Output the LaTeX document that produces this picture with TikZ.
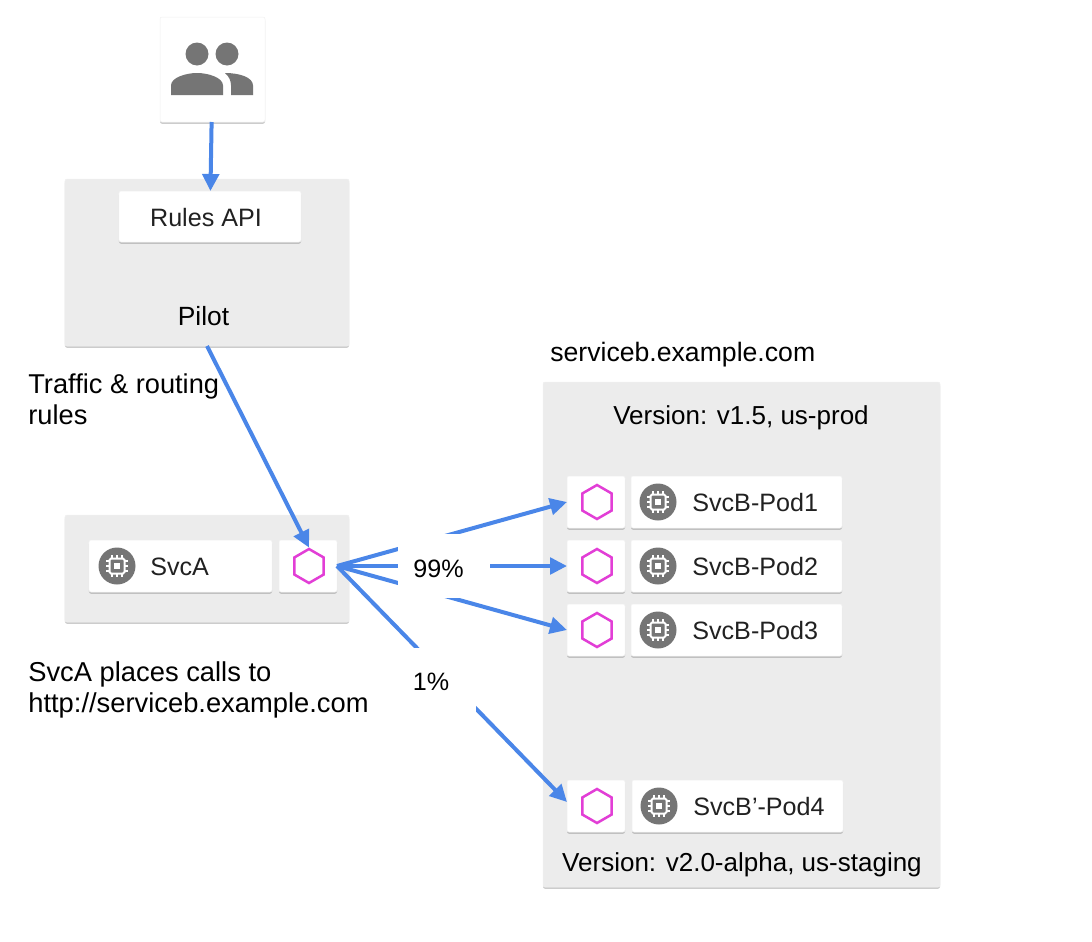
\documentclass[tikz,border=0pt]{standalone}
\usepackage{fontspec}
\setmainfont{Liberation Sans}
\usetikzlibrary{arrows.meta,shapes.geometric,shadows}
\definecolor{wire}{RGB}{74,134,232}
\definecolor{panel}{RGB}{236,236,236}
\definecolor{slate}{RGB}{117,117,117}
\definecolor{proxy}{RGB}{226,62,214}
\definecolor{ink}{RGB}{33,33,33}
\tikzset{
  >={Triangle[length=3.4mm,width=3.3mm]},
  card/.style={fill=#1,draw=black!6,line width=0.1mm,rounded corners=0.4mm,inner sep=0pt,outer sep=0pt,
    drop shadow={opacity=0.4,shadow xshift=0pt,shadow yshift=-0.35mm}},
  card/.default=white,
  panelbox/.style={card=panel},
  hexbox/.style={card,minimum width=11.6mm,minimum height=10.4mm},
  podbox/.style={card,minimum width=42.2mm,minimum height=10.4mm},
  envoy/.style={regular polygon,regular polygon sides=6,shape border rotate=30,
    draw=proxy,line width=0.5mm,minimum size=6.8mm,inner sep=0pt},
  flow/.style={->,draw=wire,line width=0.8mm},
  tag/.style={font=\fontsize{14.3}{18}\selectfont,text=ink,inner sep=0pt},
  note/.style={font=\fontsize{#1}{18.1}\selectfont,text=black,inner sep=0pt,align=left},
  note/.default=14.8,
  gap/.style={fill=white,inner sep=0pt,font=\fontsize{14.3}{18}\selectfont},
  % pictograms
  pics/chip/.style={code={
    \fill[slate] (0,0) circle (18.5);
    \draw[white,line width=0.4mm,rounded corners=0.3mm] (-7.5,-7.5) rectangle (7.5,7.5);
    \fill[white] (-3.2,-3.2) rectangle (3.2,3.2);
    \foreach \t in {-5,0,5} {
      \draw[white,line width=0.25mm] (\t,-11) -- (\t,-7.5) (\t,7.5) -- (\t,11);
      \draw[white,line width=0.25mm] (-11,\t) -- (-7.5,\t) (7.5,\t) -- (11,\t);
    }
  }},
  pics/people/.style={code={
    \fill[slate] (-15,-15.5) circle (11.5);
    \fill[slate] (15,-15.5) circle (11.5);
    \fill[slate] (-41,25.5) -- (-41,16) .. controls (-41,8) and (-26,3.5) .. (-15,3.5)
      .. controls (-4,3.5) and (11,8) .. (11,16) -- (11,25.5) -- cycle;
    \fill[slate] (13,3.5) .. controls (28,3.5) and (41,8) .. (41,16) -- (41,25.5) -- (19,25.5)
      -- (19,16) .. controls (19,11) and (17,7) .. (13,3.5) -- cycle;
  }},
}
\begin{document}
\begin{tikzpicture}[x=0.2mm,y=-0.2mm]
  \useasboundingbox (0,0) rectangle (1092,942);
  % left column
  \node[card,minimum width=21mm,minimum height=21mm] (users) at (212.5,69.5) {};
  \pic at (212,69.5) {people};
  \node[panelbox,minimum width=56.8mm,minimum height=33.4mm] (pilot) at (207,262.5) {};
  \node[card,minimum width=36.4mm,minimum height=10.2mm] (rules) at (210,216.5) {};
  \node[tag] (rulesname) at (206,217.5) {Rules API};
  \node[tag,text=black,font=\fontsize{15}{18}\selectfont] (pilotname) at (203.5,316.5) {Pilot};
  \node[panelbox,minimum width=56.8mm,minimum height=21.4mm] (svcabox) at (207,568.5) {};
  \node[card,minimum width=36.6mm,minimum height=10.4mm] (svca) at (180.5,566) {};
  \pic at (117,566) {chip};
  \node[tag,anchor=west] (svcaname) at (150,567) {SvcA};
  \node[hexbox] (svcaproxy) at (308,566) {};
  \node[envoy] (svcahex) at (309,566) {};
  \node[note=15.5,anchor=north west] (rulesnote) at (28,373) {Traffic \& routing\\rules};
  \node[note=15.55,anchor=north west] (callnote) at (28,661) {SvcA places calls to\\http://serviceb.example.com};
  % right column
  \node[note=15.15,anchor=west] (hostname) at (550,354.5) {serviceb.example.com};
  \node[panelbox,minimum width=79.4mm,minimum height=101mm] (svcb) at (741.5,634.5) {};
  \node[note] (vone) at (741,417.5) {Version: v1.5, us-prod};
  \node[note] (vtwo) at (742,864.5) {Version: v2.0-alpha, us-staging};
  \foreach \n/\x/\y/\t in {1/0/502/SvcB-Pod1,2/0/566/SvcB-Pod2,3/0/630/SvcB-Pod3,4/1/806/SvcB’-Pod4} {
    \node[hexbox] (proxy\n) at (596,\y) {};
    \node[envoy] (hex\n) at (597,\y) {};
    \node[podbox] (pod\n) at (736.5+\x,\y) {};
    \pic at (658+\x,\y) {chip};
    \node[tag,anchor=west] (podname\n) at (692+\x,\y+1) {\t};
  }
  % connectors
  \draw[flow] (users) -- (rules);
  \draw[flow] (pilot.south) -- (svcahex.north);
  \draw[flow] (svcaproxy.east) -- (proxy1.west);
  \draw[flow] (svcaproxy.east) -- (proxy2.west);
  \draw[flow] (svcaproxy.east) -- (proxy3.west);
  \draw[flow] (svcaproxy.east) -- ([yshift=0.8mm]proxy4.west);
  \node[gap,minimum width=18.4mm,minimum height=12.8mm] (major) at (444,566) {};
  \node[gap,text=black] (majorname) at (438.5,568.5) {99\%};
  \node[gap,minimum width=14mm,minimum height=12.8mm] (minor) at (441,680) {};
  \node[gap,text=black] (minorname) at (431,681.5) {1\%};
\end{tikzpicture}
\end{document}
